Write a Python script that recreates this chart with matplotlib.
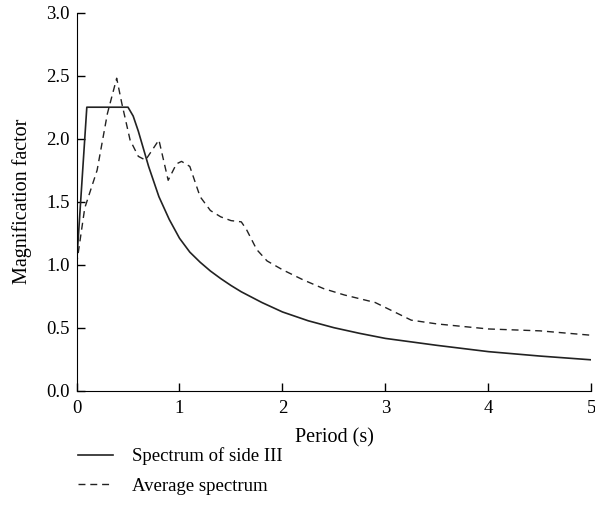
import matplotlib
matplotlib.use("Agg")
import matplotlib.pyplot as plt

matplotlib.rcParams.update({'font.size': 13.5, 'font.family': 'Liberation Serif'})

# Spectrum of side III
period_side = [0, 0.1, 0.5, 0.55, 0.6, 0.65, 0.7, 0.8, 0.9, 1.0, 1.1, 1.2, 1.3, 1.4,
               1.5, 1.6, 1.8, 2.0, 2.25, 2.5, 2.75, 3.0, 3.5, 4.0, 4.5, 5.0]
mag_side = [1.0, 2.25, 2.25, 2.18, 2.06, 1.92, 1.78, 1.54, 1.36, 1.21, 1.10, 1.02, 0.95, 0.89,
            0.835, 0.785, 0.70, 0.625, 0.555, 0.50, 0.455, 0.415, 0.36, 0.31, 0.275, 0.245]

# Average spectrum
period_avg = [0, 0.08, 0.2, 0.3, 0.39, 0.44, 0.52, 0.6, 0.67, 0.8, 0.89, 0.97, 1.02,
              1.1, 1.2, 1.3, 1.4, 1.5, 1.6, 1.65, 1.75, 1.85, 2.0, 2.2, 2.4, 2.6,
              2.9, 3.0, 3.25, 3.5, 4.0, 4.5, 5.0]
mag_avg = [1.0, 1.45, 1.75, 2.2, 2.48, 2.28, 1.99, 1.86, 1.83, 1.99, 1.67, 1.80, 1.82,
           1.78, 1.54, 1.43, 1.38, 1.35, 1.34, 1.28, 1.12, 1.03, 0.96, 0.88, 0.81, 0.76,
           0.70, 0.66, 0.56, 0.53, 0.49, 0.475, 0.44]

x_ticks = [0, 1, 2, 3, 4, 5]
y_ticks = [0.0, 0.5, 1.0, 1.5, 2.0, 2.5, 3.0]

fig = plt.figure(figsize=(5.95, 5.25), dpi=100)
ax = fig.add_axes([0.1286, 0.2558, 0.994 - 0.1286, 0.9758 - 0.2558])

ax.plot(period_side, mag_side, color='#222222', lw=1.2, label="Spectrum of side III")
ax.plot(period_avg, mag_avg, color='#222222', lw=1.0, linestyle=(0, (5, 3.5)),
        label="Average spectrum")

ax.set_xlim(0, 5)
ax.set_ylim(0, 3)
ax.set_xticks(x_ticks)
ax.set_yticks(y_ticks)
ax.set_yticklabels([f"{v:.1f}" for v in y_ticks])
ax.tick_params(direction='in', length=6, width=1)
ax.tick_params(axis='y', pad=5)
ax.tick_params(axis='x', pad=7)
for side in ['top', 'right']:
    ax.spines[side].set_visible(False)
ax.set_xlabel("Period (s)", labelpad=8, fontsize=14.5)
ax.set_ylabel("Magnification factor", labelpad=10, fontsize=14.5)

fig.legend(loc='upper left', bbox_to_anchor=(0.118, 0.162), frameon=False,
           handlelength=1.9, handletextpad=1.0, labelspacing=0.65, borderaxespad=0)

fig.savefig("out.png", dpi=100)
